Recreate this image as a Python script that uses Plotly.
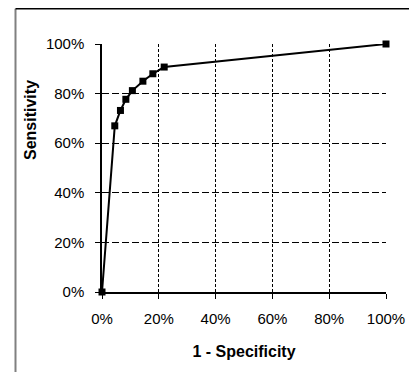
import plotly.graph_objects as go

# 1 - Specificity (false positive rate) and Sensitivity values
fpr = [0.0, 0.045, 0.065, 0.084, 0.107, 0.144, 0.179, 0.219, 1.0]
sensitivity = [0.0, 0.67, 0.732, 0.777, 0.812, 0.850, 0.880, 0.907, 1.0]
tick_values = [0, 0.2, 0.4, 0.6, 0.8, 1.0]
tick_labels = ["0%", "20%", "40%", "60%", "80%", "100%"]

# The page body has an 8px default margin, so the figure is sized to fit the window.
OFF = 8
W, H = 417 - OFF, 376 - OFF
L, R, T, B = 94, 31, 36, 84
pw, ph = W - L - R, H - T - B

def px(xw):
    # window pixel x -> paper coordinate
    return (xw - OFF - L) / pw

def py(yw):
    # window pixel y -> paper coordinate
    return (H - B - (yw - OFF)) / ph

fig = go.Figure()
fig.add_trace(go.Scatter(
    x=fpr, y=sensitivity, mode="lines+markers",
    line=dict(color="black", width=2),
    marker=dict(symbol="square", size=7, color="black"),
    cliponaxis=False, showlegend=False,
))

tick_font = dict(family="Liberation Sans, Arial, sans-serif", size=15, color="black")
title_font = dict(family="Liberation Sans, Arial, sans-serif", size=16, color="black")

fig.update_layout(
    width=W, height=H,
    margin=dict(l=L, r=R, t=T, b=B),
    paper_bgcolor="white", plot_bgcolor="white",
    font=tick_font,
    xaxis=dict(
        range=[0, 1], tickvals=tick_values, ticktext=tick_labels,
        tickfont=tick_font,
        showgrid=True, gridcolor="black", gridwidth=1, griddash="3px,2px",
        showline=True, linecolor="black", linewidth=1.5,
        ticks="outside", ticklen=5, tickcolor="black", tickwidth=1,
        ticklabelstandoff=7,
        zeroline=False, fixedrange=True, automargin=False,
        title=dict(text="<b>1 - Specificity</b>", font=title_font, standoff=20),
    ),
    yaxis=dict(
        range=[0, 1], tickvals=tick_values, ticktext=tick_labels,
        tickfont=tick_font,
        showgrid=True, gridcolor="black", gridwidth=1, griddash="7px,3px",
        showline=True, linecolor="black", linewidth=1.5,
        ticks="outside", ticklen=5, tickcolor="black", tickwidth=1,
        ticklabelstandoff=8,
        zeroline=False, fixedrange=True, automargin=False,
    ),
    annotations=[dict(
        text="<b>Sensitivity</b>", textangle=-90, showarrow=False,
        xref="paper", yref="paper", x=px(31), y=py(120),
        xanchor="center", yanchor="middle", font=title_font,
    )],
    shapes=[
        dict(type="line", xref="paper", yref="paper", x0=px(15.5), x1=px(15.5),
             y0=py(8.75), y1=py(372), layer="below",
             line=dict(color="#808080", width=2)),
        dict(type="line", xref="paper", yref="paper", x0=px(15.5), x1=px(413),
             y0=py(8.75), y1=py(8.75), layer="below",
             line=dict(color="black", width=1.5)),
        dict(type="line", xref="paper", yref="paper", x0=px(413), x1=px(413),
             y0=py(8.75), y1=py(372), layer="below",
             line=dict(color="black", width=1.5)),
    ],
)

fig.write_html("out.html")
